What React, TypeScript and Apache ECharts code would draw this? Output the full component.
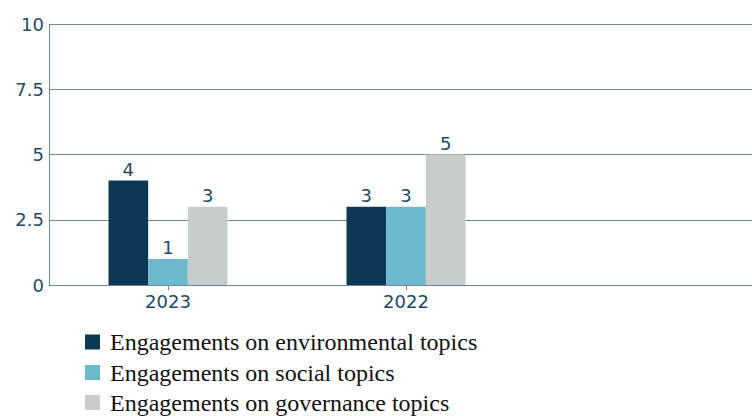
import React, { useEffect, useRef } from "react";
import * as echarts from "echarts";

const categories = ["2023", "2022", ""];
const environmental = [4, 3];
const social = [1, 3];
const governance = [3, 5];
const seriesNames = [
  "Engagements on environmental topics",
  "Engagements on social topics",
  "Engagements on governance topics",
];
const colors = ["#0b3855", "#6cb8cc", "#c8cdcb"];

export default function App() {
  const ref = useRef<HTMLDivElement>(null);
  useEffect(() => {
    if (!ref.current) return;
    const chart = echarts.init(ref.current, undefined, { renderer: "svg" });
    const axisColor = "#1e4a66";
    const mk = (name: string, data: number[], color: string) => ({
      name,
      type: "bar",
      data,
      barGap: "0%",
      barCategoryGap: "50%",
      itemStyle: { color },
      label: {
        show: true,
        position: "top",
        distance: 2,
        color: axisColor,
        fontFamily: "DejaVu Sans",
        fontSize: 18,
      },
    });
    const legendTops = [330, 360.5, 390.5];
    const legends = seriesNames.map((n, i) => ({
      data: [n],
      orient: "vertical",
      left: 85,
      top: legendTops[i],
      padding: 0,
      itemWidth: 15,
      itemHeight: 15,
      icon: "rect",
      textStyle: {
        fontFamily: "Liberation Serif",
        fontSize: 24,
        lineHeight: 24,
        color: "#111111",
        padding: [0, 0, 0, 5],
      },
    }));
    chart.setOption({
      animation: false,
      grid: { left: 49, top: 24, right: 0, height: 261, containLabel: false },
      legend: legends,
      xAxis: {
        type: "category",
        data: categories,
        axisLine: { lineStyle: { color: "#6f8898", width: 1 } },
        axisTick: {
          show: true,
          alignWithLabel: true,
          length: 5,
          interval: (i: number) => i < 2,
          lineStyle: { color: "#6f8898" },
        },
        axisLabel: { color: axisColor, fontFamily: "DejaVu Sans", fontSize: 18, margin: 7 },
      },
      yAxis: {
        type: "value",
        min: 0,
        max: 10,
        interval: 2.5,
        axisLine: { show: true, lineStyle: { color: "#6f8898", width: 1 } },
        axisTick: { show: false },
        splitLine: { lineStyle: { color: "#6f8898", width: 1 } },
        axisLabel: { color: axisColor, fontFamily: "DejaVu Sans", fontSize: 18, margin: 5 },
      },
      series: [
        mk(seriesNames[0], environmental, colors[0]),
        mk(seriesNames[1], social, colors[1]),
        mk(seriesNames[2], governance, colors[2]),
      ],
    });
    return () => chart.dispose();
  }, []);
  return (
    <div style={{ width: 752, height: 416, position: "absolute", left: 0, top: 0, overflow: "hidden" }}>
      <div ref={ref} style={{ width: 763, height: 416 }} />
    </div>
  );
}
